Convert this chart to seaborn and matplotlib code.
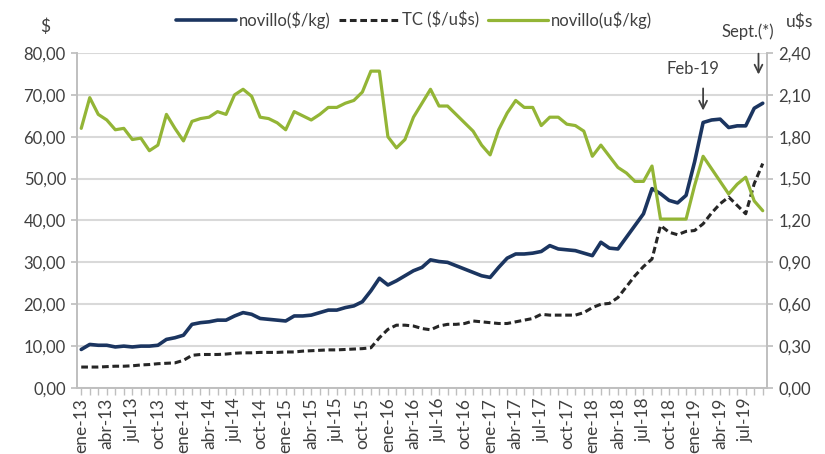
import numpy as np
import pandas as pd
import matplotlib.pyplot as plt
import seaborn as sns
from matplotlib.ticker import FuncFormatter, MultipleLocator
from matplotlib.lines import Line2D

sns.set_theme(style="white")
plt.rcParams['font.family'] = ['Lato', 'DejaVu Sans']

# --- data (ene-13 .. sep-19, monthly) ---
meses = ['ene', 'feb', 'mar', 'abr', 'may', 'jun', 'jul', 'ago', 'sep', 'oct', 'nov', 'dic']
periodos = [f"{m}-{a}" for a in range(13, 20) for m in meses][:81]

novillo_pesos = [
    9.2, 10.4, 10.2, 10.2, 9.8, 10.0, 9.8, 10.0, 10.0, 10.2, 11.6, 12.0,
    12.6, 15.2, 15.6, 15.8, 16.2, 16.2, 17.2, 18.0, 17.6, 16.6, 16.4, 16.2,
    16.0, 17.2, 17.2, 17.4, 18.0, 18.6, 18.6, 19.2, 19.6, 20.6, 23.2, 26.2,
    24.6, 25.6, 26.8, 28.0, 28.8, 30.6, 30.2, 30.0, 29.2, 28.4, 27.6, 26.8,
    26.4, 28.8, 31.0, 32.0, 32.0, 32.2, 32.6, 34.0, 33.2, 33.0, 32.8, 32.2,
    31.6, 34.8, 33.4, 33.2, 36.0, 38.8, 41.6, 47.6, 46.4, 44.8, 44.2, 46.0,
    54.0, 63.4, 64.0, 64.2, 62.2, 62.6, 62.6, 66.8, 68.0,
]
tc = [
    5.0, 5.0, 5.0, 5.1, 5.2, 5.2, 5.3, 5.5, 5.6, 5.8, 5.9, 6.0,
    6.6, 7.8, 8.0, 8.0, 8.0, 8.1, 8.3, 8.4, 8.4, 8.5, 8.5, 8.5,
    8.6, 8.6, 8.8, 8.9, 9.0, 9.1, 9.1, 9.2, 9.3, 9.4, 9.6, 12.0,
    14.0, 15.0, 15.0, 14.8, 14.2, 13.9, 14.8, 15.2, 15.2, 15.4, 16.0, 15.8,
    15.6, 15.4, 15.4, 15.8, 16.2, 16.6, 17.6, 17.4, 17.4, 17.4, 17.4, 18.0,
    19.2, 20.0, 20.2, 21.6, 24.2, 26.8, 29.0, 30.8, 38.8, 37.2, 36.6, 37.4,
    37.6, 39.2, 41.8, 44.0, 45.6, 43.6, 41.6, 48.8, 53.6,
]
novillo_usd = [
    1.86, 2.08, 1.96, 1.92, 1.85, 1.86, 1.78, 1.79, 1.70, 1.74, 1.96, 1.86,
    1.77, 1.91, 1.93, 1.94, 1.98, 1.96, 2.10, 2.14, 2.09, 1.94, 1.93, 1.90,
    1.85, 1.98, 1.95, 1.92, 1.96, 2.01, 2.01, 2.04, 2.06, 2.12, 2.27, 2.27,
    1.80, 1.72, 1.78, 1.94, 2.04, 2.14, 2.02, 2.02, 1.96, 1.90, 1.84, 1.74,
    1.67, 1.85, 1.97, 2.06, 2.01, 2.01, 1.88, 1.94, 1.94, 1.89, 1.88, 1.84,
    1.66, 1.74, 1.66, 1.58, 1.54, 1.48, 1.48, 1.59, 1.21, 1.21, 1.21, 1.21,
    1.45, 1.66, 1.57, 1.48, 1.39, 1.46, 1.51, 1.34, 1.27,
]

df = pd.DataFrame({
    'mes': np.arange(len(periodos)),
    'periodo': periodos,
    'novillo_pesos': novillo_pesos,
    'tc': tc,
    'novillo_usd': novillo_usd,
})

NAVY = '#1b3560'
GREEN = '#93b536'
DASH = '#262626'
GRAY = '#404040'
DASHES = (0, (2.2, 1.2))

fig, ax = plt.subplots(figsize=(8.25, 4.54), dpi=100)
fig.subplots_adjust(left=0.0933, right=0.9297, top=0.8833, bottom=0.1454)
ax2 = ax.twinx()

sns.lineplot(data=df, x='mes', y='novillo_pesos', ax=ax, color=NAVY, linewidth=2.6)
sns.lineplot(data=df, x='mes', y='tc', ax=ax, color=DASH, linewidth=2.2, linestyle=DASHES)
sns.lineplot(data=df, x='mes', y='novillo_usd', ax=ax2, color=GREEN, linewidth=2.3)

# axes
fmt = FuncFormatter(lambda v, p: f"{v:.2f}".replace('.', ','))
ax.set_xlim(-0.5, len(periodos) - 0.5)
ax.set_ylim(0, 80)
ax2.set_ylim(0, 2.4)
ax.yaxis.set_major_locator(MultipleLocator(10))
ax2.yaxis.set_major_locator(MultipleLocator(0.3))
ax.yaxis.set_major_formatter(fmt)
ax2.yaxis.set_major_formatter(fmt)
ax.set_xticks(df['mes'][::3])
ax.set_xticklabels(df['periodo'][::3], rotation=90, fontsize=12.5, color=GRAY)
ax.set_xticks(df['mes'], minor=True)
ax.tick_params(axis='x', which='both', bottom=True, length=5, width=1, color='#bfbfbf',
               direction='out', pad=2)
ax.tick_params(axis='y', labelsize=12, colors=GRAY, left=True, length=4,
               color='#bfbfbf', pad=4)
ax2.tick_params(axis='y', labelsize=12, colors=GRAY, right=True, length=4,
                color='#bfbfbf', pad=4)
for a in (ax, ax2):
    a.set_xlabel('')
    a.set_ylabel('')
    a.spines['top'].set_visible(False)
    for s in ['left', 'right', 'bottom']:
        a.spines[s].set_color('#bfbfbf')
        a.spines[s].set_linewidth(1.2)
ax.grid(axis='y', color='#d9d9d9', linewidth=1.5)
ax.set_axisbelow(True)
ax2.grid(False)

# axis titles
fig.text(45 / 825, 1 - 27 / 454, r'\$', fontsize=12.5, color=GRAY, ha='center', va='center')
fig.text(800 / 825, 1 - 22 / 454, r'u\$s', fontsize=12.5, color=GRAY, ha='center', va='center')

# annotations
ax.annotate('', xy=(73, 65.6), xytext=(73, 72.2),
            arrowprops=dict(arrowstyle='->', color=GRAY, lw=1.3, mutation_scale=14))
ax.text(71.8, 76.2, 'Feb-19', fontsize=12, color=GRAY, ha='center', va='center')
ax.annotate('', xy=(79.5, 74.2), xytext=(79.5, 80.5),
            arrowprops=dict(arrowstyle='->', color=GRAY, lw=1.3, mutation_scale=14),
            annotation_clip=False)
ax.text(78.2, 85.0, 'Sept.(*)', fontsize=12, color=GRAY, ha='center', va='center',
        clip_on=False)

# legend
handles = [
    Line2D([], [], color=NAVY, linewidth=2.6),
    Line2D([], [], color=DASH, linewidth=2.2, linestyle=DASHES),
    Line2D([], [], color=GREEN, linewidth=2.3),
]
labels = [r'novillo(\$/kg)', r'TC (\$/u\$s)', r'novillo(u\$/kg)']
fig.legend(handles, labels, loc='center', bbox_to_anchor=(414 / 825, 1 - 20 / 454),
           ncol=3, frameon=False, fontsize=12, handlelength=3.6, handletextpad=0.2,
           columnspacing=0.5, labelcolor=GRAY)

fig.savefig('out.png', dpi=100)
